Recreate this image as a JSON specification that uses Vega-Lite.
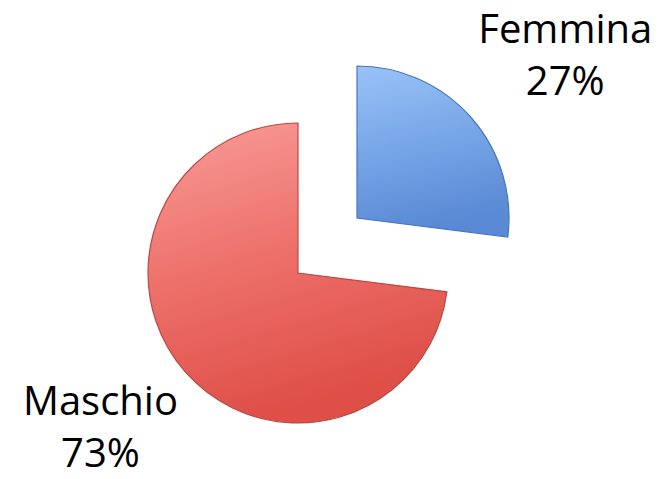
{
  "$schema": "https://vega.github.io/schema/vega-lite/v6.json",
  "width": 660,
  "height": 479,
  "padding": 0,
  "autosize": {"type": "none"},
  "background": "white",
  "view": {"stroke": null},
  "data": {
    "values": [
      {"sesso": "Femmina", "percentuale": 27, "etichetta": "Femmina\n27%"},
      {"sesso": "Maschio", "percentuale": 73, "etichetta": "Maschio\n73%"}
    ]
  },
  "transform": [
    {"stack": "percentuale", "groupby": [], "sort": [{"field": "sesso", "order": "ascending"}], "as": ["inizio", "fine"]},
    {"calculate": "(datum.inizio + datum.fine) / 2", "as": "centro"}
  ],
  "layer": [
    {
      "transform": [{"filter": "datum.sesso === 'Maschio'"}],
      "mark": {
        "type": "arc", "radius": 150, "xOffset": -32, "yOffset": 33.5,
        "stroke": "#b94a45", "strokeWidth": 1.2,
        "fill": {"gradient": "linear", "x1": 0, "y1": 0, "x2": 0.3, "y2": 1,
          "stops": [{"offset": 0, "color": "#f89c99"}, {"offset": 0.5, "color": "#ee716b"}, {"offset": 1, "color": "#de4f48"}]}
      },
      "encoding": {
        "theta": {"field": "inizio", "type": "quantitative", "scale": {"domain": [0, 100]}},
        "theta2": {"field": "fine"}
      }
    },
    {
      "transform": [{"filter": "datum.sesso === 'Femmina'"}],
      "mark": {
        "type": "arc", "radius": 152, "xOffset": 27, "yOffset": -21.5,
        "stroke": "#4677bd", "strokeWidth": 1.2,
        "fill": {"gradient": "linear", "x1": 0, "y1": 0, "x2": 0.2, "y2": 1,
          "stops": [{"offset": 0, "color": "#9ac2f6"}, {"offset": 0.5, "color": "#77a6e8"}, {"offset": 1, "color": "#5a89d5"}]}
      },
      "encoding": {
        "theta": {"field": "inizio", "type": "quantitative", "scale": {"domain": [0, 100]}},
        "theta2": {"field": "fine"}
      }
    },
    {
      "transform": [{"filter": "datum.sesso === 'Maschio'"}],
      "mark": {
        "type": "text", "radius": 254, "xOffset": -32, "yOffset": 33.5, "dx": -7, "dy": -38,
        "font": "Open Sans", "fontSize": 40, "lineBreak": "\n", "lineHeight": 52,
        "align": "center", "baseline": "middle", "color": "#000000"
      },
      "encoding": {
        "theta": {"field": "centro", "type": "quantitative", "scale": {"domain": [0, 100]}},
        "text": {"field": "etichetta", "type": "nominal"}
      }
    },
    {
      "transform": [{"filter": "datum.sesso === 'Femmina'"}],
      "mark": {
        "type": "text", "radius": 263, "xOffset": 27, "yOffset": -21.5, "dx": 11, "dy": -13,
        "font": "Open Sans", "fontSize": 40, "lineBreak": "\n", "lineHeight": 52,
        "align": "center", "baseline": "middle", "color": "#000000"
      },
      "encoding": {
        "theta": {"field": "centro", "type": "quantitative", "scale": {"domain": [0, 100]}},
        "text": {"field": "etichetta", "type": "nominal"}
      }
    }
  ]
}
